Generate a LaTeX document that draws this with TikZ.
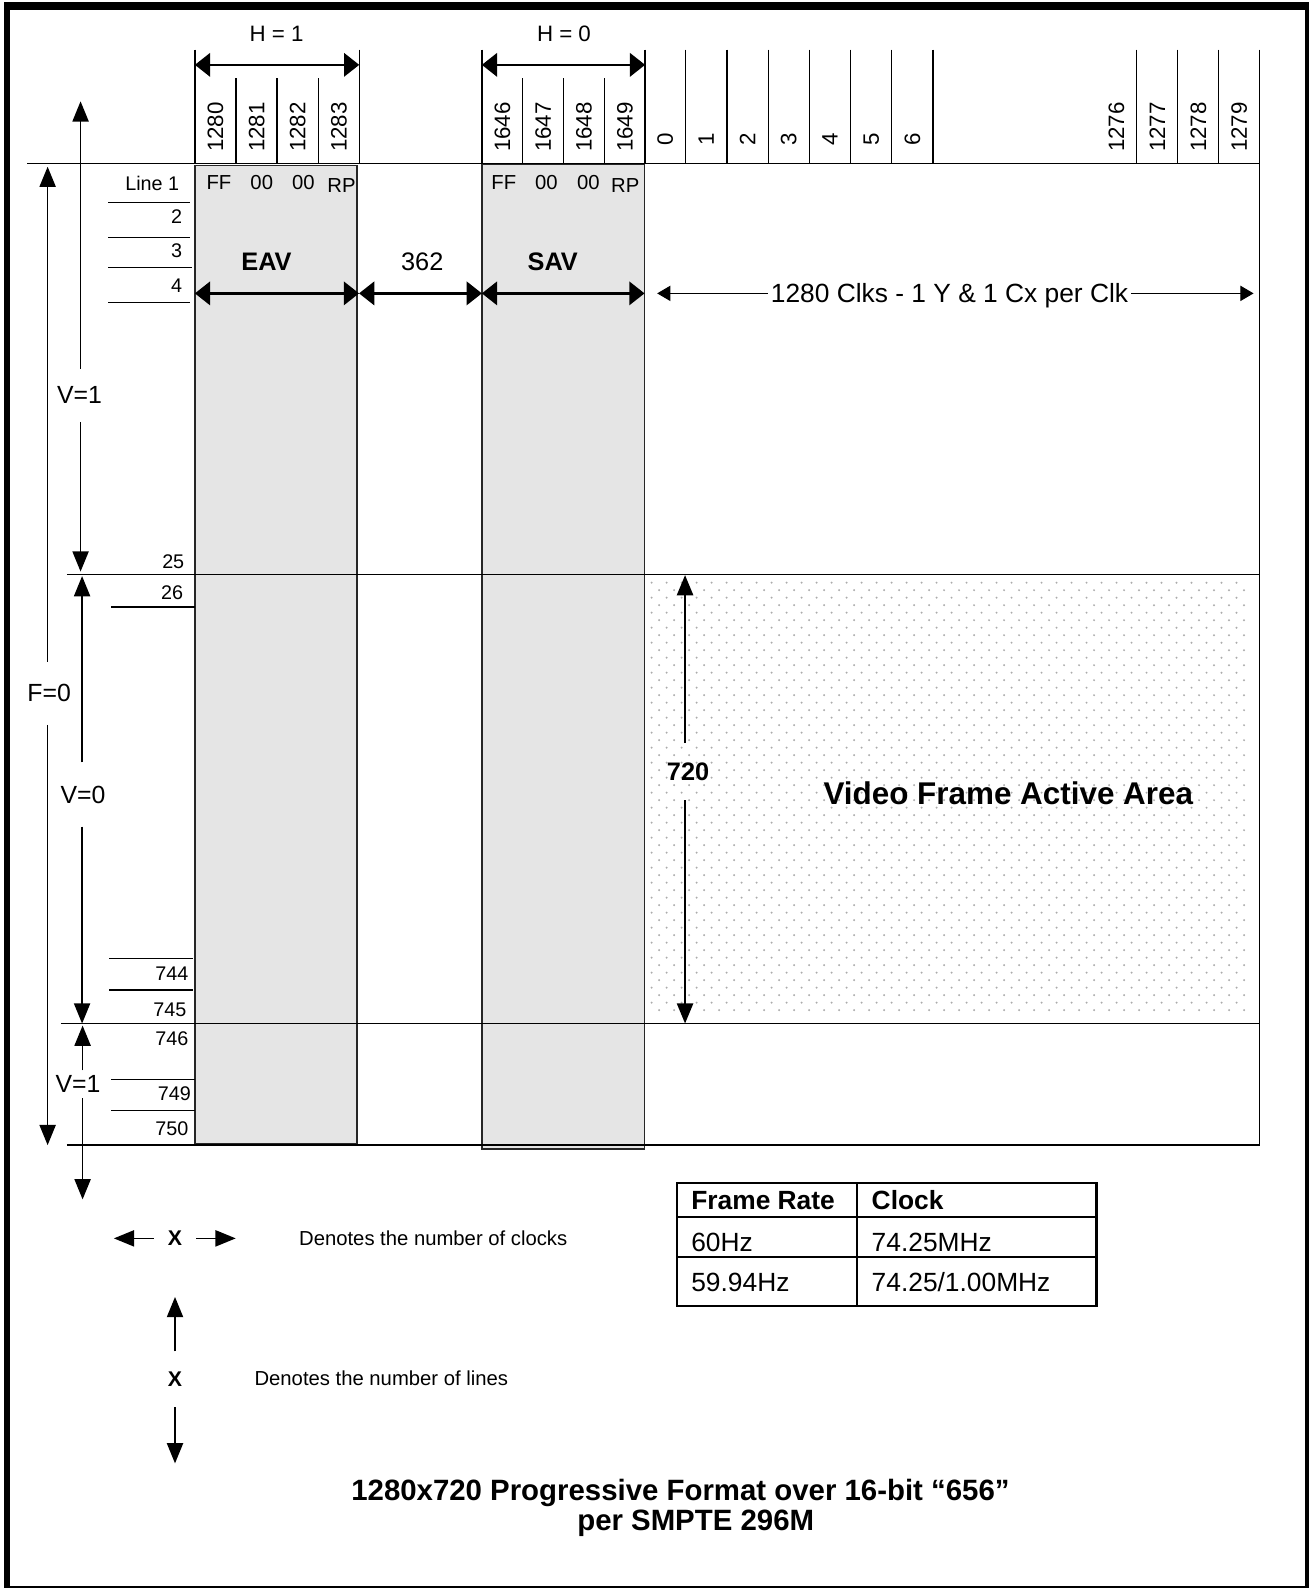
\documentclass[tikz,border=0pt]{standalone}
\usepackage{fontspec}
\setmainfont{Liberation Sans}
\usepackage{tikz}
\usetikzlibrary{
  arrows.meta,
  positioning,
  calc
}

\begin{document}
\begin{tikzpicture}[
      x=1pt, y=-1pt,
      >={Triangle[length=20pt,width=16pt]},
      every node/.style={inner sep=0pt, text depth=0pt},
      grade/.style={line width=1.3pt},
      bloco/.style={fill=gray!20, draw=black!85, line width=1.5pt},
      num/.style={rotate=90, anchor=west, font=\fontsize{22}{26}\selectfont},
      rot/.style={anchor=east, font=\fontsize{19.5}{23}\selectfont},
      cod/.style={font=\fontsize{20}{24}\selectfont},
      hlab/.style={font=\fontsize{22}{26}\selectfont},
      medida/.style={font=\fontsize{25}{30}\selectfont},
      grande/.style={font=\fontsize{25}{30}\selectfont\bfseries},
      vlab/.style={font=\fontsize{24.5}{29}\selectfont},
      setagrossa/.style={<->, >={Triangle[length=15pt,width=23pt]}, line width=2.5pt},
      setafina/.style={->, >={Triangle[length=13pt,width=15pt]}, line width=1pt},
      setav/.style={->, line width=1.5pt},
      tab/.style={anchor=west, font=\fontsize{26}{30}\selectfont},
      leg/.style={anchor=west, font=\fontsize{20}{24}\selectfont},
      legx/.style={font=\fontsize{21}{25}\selectfont\bfseries},
      titulo/.style={font=\fontsize{29}{34}\selectfont\bfseries}
  ]
      \useasboundingbox (0,0) rectangle (1292,1568);

      % Moldura
      \fill (4,2) rectangle (1288,9.5);
      \fill (4.4,2) rectangle (9.7,1567);
      \fill (1288,2) rectangle (1292,1567);
      \draw[line width=1.3pt] (4.4,1566) -- (1292,1566);

      % Area ativa pontilhada
      \foreach \r in {0,...,57} {
        \pgfmathsetmacro{\dx}{mod(\r,2)*7.4}
        \foreach \c in {0,...,39}
          \fill[gray!65] ({643+\dx+\c*14.8},{575+\r*7.4}) circle (1.1pt);
      }

      % Blocos EAV/SAV
      \filldraw[bloco] (192.3,163.5) rectangle (352.3,1129);
      \filldraw[bloco] (475.5,162) rectangle (635.8,1134);

      % Linhas da grade
      \draw[grade] (27,161.5) -- (1243,161.5);
      \draw[grade] (66,567) -- (1243,567);
      \draw[grade] (60,1010) -- (1243,1010);
      \draw[grade] (66,1130) -- (1243,1130);
      \draw[grade] (1243,49) -- (1243,1130);
      \foreach \x in {192.3,354.5,475.5,636.6,676.7,717.3,758,798.6,839.3,880,920.6,1121.8,1162.2,1202.6}
        \draw[grade] (\x,49) -- (\x,161.5);
      \foreach \x in {232.9,273.4,314,515.8,556.1,596.4}
        \draw[grade] (\x,77) -- (\x,161.5);

      % Numeros das amostras
      \foreach \n [count=\i from 0] in {1280,1281,1282,1283}
        \node[num] (c\n) at ({212.6+\i*40.55},150) {\n};
      \foreach \n [count=\i from 0] in {1646,1647,1648,1649}
        \node[num] (c\n) at ({495.6+\i*40.3},150) {\n};
      \foreach \n [count=\i from 0] in {0,...,6}
        \node[num] (a\n) at ({656.3+\i*40.66},144) {\n};
      \foreach \n [count=\i from 0] in {1276,1277,1278,1279}
        \node[num] (c\n) at ({1101.6+\i*40.4},150) {\n};

      % Linhas de video
      \node[rot] (l1) at (177,181) {Line 1};
      \node[rot] (l2) at (180,214) {2};
      \node[rot] (l3) at (180,247) {3};
      \node[rot] (l4) at (180,282) {4};
      \node[rot] (l25) at (182,554) {25};
      \node[rot] (l26) at (181,585) {26};
      \node[rot] (l744) at (186,961) {744};
      \node[rot] (l745) at (184,996.5) {745};
      \node[rot] (l746) at (186,1024.5) {746};
      \node[rot] (l749) at (188.5,1079) {749};
      \node[rot] (l750) at (186,1114) {750};
      \foreach \y/\a/\b in {200/107/187, 234.6/107/187, 264.2/107/189, 298.7/107/187,
                            599/110/192, 945.8/108/190, 977/108/190, 1065/110/192, 1095.7/110/192}
        \draw[grade] (\a,\y) -- (\b,\y);

      % Palavras de sincronismo
      \node[cod] (eff) at (216,180) {FF};
      \node[cod] (e00a) at (258.3,180) {00};
      \node[cod] (e00b) at (299.4,180) {00};
      \node[cod] (erp) at (337,182.6) {RP};
      \node[cod] (sff) at (497.2,180) {FF};
      \node[cod] (s00a) at (539.2,180) {00};
      \node[cod] (s00b) at (580.7,180) {00};
      \node[cod] (srp) at (617,182.6) {RP};

      % Cotas horizontais
      \node[hlab] (h1) at (273,33) {H = 1};
      \node[hlab] (h0) at (556.5,33) {H = 0};
      \coordinate (h1e) at (192.3,64);
      \coordinate (h1d) at (354.5,64);
      \coordinate (h0e) at (475.5,64);
      \coordinate (h0d) at (636.6,64);
      \draw[setagrossa] (h1e) -- (h1d);
      \draw[setagrossa] (h0e) -- (h0d);

      \node[grande] (eav) at (263,258) {EAV};
      \node[medida] (gap) at (416.7,258) {362};
      \node[grande] (sav) at (545.4,258) {SAV};
      \coordinate (eavE) at (192.3,289.5);
      \coordinate (eavD) at (354.3,289.5);
      \coordinate (savE) at (475.5,289.5);
      \coordinate (savD) at (636,289.5);
      \draw[setagrossa] (eavE) -- (eavD);
      \draw[setagrossa] (eavD) -- (savE);
      \draw[setagrossa] (savE) -- (savD);

      \node[font=\fontsize{26}{30}\selectfont, inner xsep=3pt] (clk) at (937,289.5) {1280 Clks - 1 Y \& 1 Cx per Clk};
      \coordinate (clkE) at (648.5,289.5);
      \coordinate (clkD) at (1237,289.5);
      \draw[setafina] (clk.west) -- (clkE);
      \draw[setafina] (clk.east) -- (clkD);

      % Cotas verticais
      \node[vlab, minimum height=62pt] (f0) at (48.5,684) {F=0};
      \coordinate (f0t) at (47,164.5);
      \coordinate (f0b) at (47,1130);
      \draw[setav] (f0t |- f0.north) -- (f0t);
      \draw[setav] (f0b |- f0.south) -- (f0b);

      \node[vlab, minimum height=52pt] (v1) at (78.5,390) {V=1};
      \coordinate (v1t) at (79.5,100);
      \coordinate (v1b) at (79.5,564);
      \draw[setav] (v1t |- v1.north) -- (v1t);
      \draw[setav] (v1b |- v1.south) -- (v1b);

      \node[vlab, minimum height=63pt] (v0) at (82,784) {V=0};
      \coordinate (v0t) at (81,568.5);
      \coordinate (v0b) at (81,1010);
      \draw[setav] (v0t |- v0.north) -- (v0t);
      \draw[setav] (v0b |- v0.south) -- (v0b);

      \node[vlab, minimum height=27pt] (v2) at (77,1070) {V=1};
      \coordinate (v2t) at (81.5,1012);
      \coordinate (v2b) at (81.5,1183.5);
      \draw[setav] (v2t |- v2.north) -- (v2t);
      \draw[setav] (v2b |- v2.south) -- (v2b);

      \node[grande, minimum height=56pt] (alt) at (679,761.6) {720};
      \coordinate (altt) at (676,567.5);
      \coordinate (altb) at (676,1010);
      \draw[setav, line width=2pt] (altt |- alt.north) -- (altt);
      \draw[setav, line width=2pt] (altb |- alt.south) -- (altb);

      \node[font=\fontsize{31}{36}\selectfont\bfseries] (ativa) at (995,783) {Video Frame Active Area};

      % Tabela de clock
      \draw[line width=2pt] (668,1167) rectangle (1082,1288.5);
      \draw[line width=2pt] (668,1201) -- (1082,1201);
      \draw[line width=2pt] (668,1240.3) -- (1082,1240.3);
      \draw[line width=2pt] (845.5,1167) -- (845.5,1288.5);
      \node[tab, font=\fontsize{26}{30}\selectfont\bfseries] (tfr) at (682,1184.4) {Frame Rate};
      \node[tab, font=\fontsize{26}{30}\selectfont\bfseries] (tck) at (860,1184.4) {Clock};
      \node[tab] (t60) at (682,1225.5) {60Hz};
      \node[tab] (tc60) at (860,1225.5) {74.25MHz};
      \node[tab] (t59) at (682,1265) {59.94Hz};
      \node[tab] (tc59) at (860,1265) {74.25/1.00MHz};

      % Legenda
      \node[legx, minimum width=42pt] (lx) at (172.7,1222) {X};
      \coordinate (lxe) at (112.4,1222);
      \coordinate (lxd) at (232.6,1222);
      \draw[setav] (lx.west) -- (lxe);
      \draw[setav] (lx.east) -- (lxd);
      \node[leg] (lclk) at (295,1222) {Denotes the number of clocks};

      \node[legx, minimum height=54.6pt] (ly) at (172.7,1361) {X};
      \coordinate (lyt) at (172.7,1279.8);
      \coordinate (lyb) at (172.7,1444);
      \draw[setav] (ly.north) -- (lyt);
      \draw[setav] (ly.south) -- (lyb);
      \node[leg] (llin) at (251,1360.4) {Denotes the number of lines};

      % Titulo
      \node[titulo] (t1) at (671.5,1470.6) {1280x720 Progressive Format over 16-bit “656”};
      \node[titulo] (t2) at (686.5,1500) {per SMPTE 296M};
  \end{tikzpicture}
\end{document}
